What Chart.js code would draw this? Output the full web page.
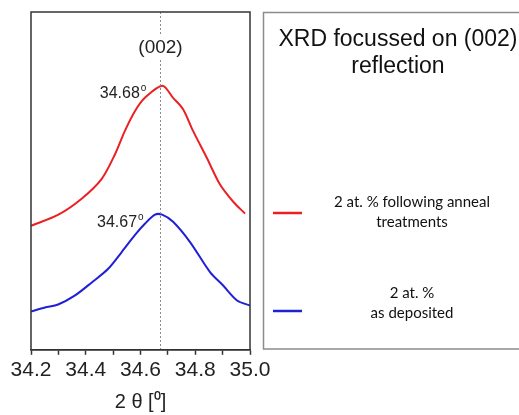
<!DOCTYPE html>
<html>
<head>
<meta charset="utf-8">
<script src="https://cdn.jsdelivr.net/npm/chart.js@4.4.1/dist/chart.umd.min.js"></script>
<style>
  html, body { margin: 0; padding: 0; background: #fff; }
  #wrap { position: relative; width: 519px; height: 415px; }
</style>
</head>
<body>
<div id="wrap"><canvas id="xrd-chart" width="519" height="415"></canvas></div>
<script>
// Data
const annealAngles = [34.20, 34.30, 34.386, 34.459, 34.507, 34.543, 34.58, 34.616, 34.68, 34.719, 34.755, 34.792, 34.843, 34.89, 34.938, 34.982];
const annealIntensity = [36.7, 40.0, 44.8, 50.7, 57.9, 64.8, 70.7, 74.6, 78.2, 74.6, 71.3, 64.8, 56.7, 49.0, 43.9, 40.3];

const depositedAngles = [34.20, 34.251, 34.299, 34.361, 34.423, 34.481, 34.532, 34.58, 34.616, 34.653, 34.679, 34.719, 34.781, 34.854, 34.901, 34.953, 35.0];
const depositedIntensity = [11.3, 12.5, 13.4, 16.1, 20.0, 23.9, 29.0, 34.0, 37.3, 40.0, 40.0, 37.9, 31.9, 23.0, 19.1, 14.6, 13.1];

const seriesNames = ['2 at. % following anneal treatments', '2 at. % as deposited'];
const legendLines = [['2 at. % following anneal', 'treatments'], ['2 at. %', 'as deposited']];
const seriesColors = ['rgb(236, 32, 36)', 'rgb(32, 32, 214)'];

const peakPositions = [34.68, 34.67];
const peakLabels = ['34.68', '34.67'];
const reflectionPosition = 34.67;
const reflectionLabel = '(002)';
const panelTitle = ['XRD focussed on (002)', 'reflection'];

const xMin = 34.2;
const xMax = 35.0;
const xTitle = '2 θ [⁰]';

function toPoints(xs, ys) {
    return xs.map((x, i) => ({ x: x, y: ys[i] }));
}

// Frame, reference line, peak labels
const overlayPlugin = {
    id: 'overlay',
    afterDatasetsDraw(chart) {
        const ctx = chart.ctx;
        const area = chart.chartArea;
        const xs = chart.scales.x;
        const ys = chart.scales.y;

        ctx.save();
        // dotted (002) line
        const rx = Math.round(xs.getPixelForValue(reflectionPosition)) + 0.5;
        ctx.strokeStyle = '#8a8a8a';
        ctx.lineWidth = 1;
        ctx.setLineDash([2, 2]);
        ctx.beginPath();
        ctx.moveTo(rx, area.top);
        ctx.lineTo(rx, area.bottom);
        ctx.stroke();
        ctx.setLineDash([]);

        // (002) label with white background
        ctx.font = '19px "Liberation Sans", Arial, sans-serif';
        ctx.textAlign = 'center';
        ctx.textBaseline = 'middle';
        const lw = ctx.measureText(reflectionLabel).width;
        ctx.fillStyle = '#fff';
        ctx.fillRect(rx - lw / 2 - 2, area.top + 24, lw + 4, 24);
        ctx.fillStyle = '#222';
        ctx.fillText(reflectionLabel, rx, area.top + 36);

        // peak labels
        const peakData = [annealIntensity, depositedIntensity];
        peakPositions.forEach((p, i) => {
            const px = xs.getPixelForValue(p);
            const py = ys.getPixelForValue(Math.max(...peakData[i]));
            ctx.font = '10px "Liberation Sans", Arial, sans-serif';
            const dw = ctx.measureText('o').width;
            const right = px - 16;
            ctx.fillStyle = '#222';
            ctx.textAlign = 'right';
            ctx.textBaseline = 'middle';
            ctx.fillText('o', right, py + 3);
            ctx.font = '16px "Liberation Sans", Arial, sans-serif';
            ctx.fillText(peakLabels[i], right - dw - 1, py + 8);
        });

        // plot frame
        ctx.strokeStyle = '#333';
        ctx.lineWidth = 1.5;
        ctx.strokeRect(area.left, area.top, area.right - area.left, area.bottom - area.top);
        ctx.restore();
    }
};

// Legend panel on the right
const panelPlugin = {
    id: 'panel',
    afterDraw(chart) {
        const ctx = chart.ctx;
        const left = 263.5;
        const top = 12.5;
        const bottom = 349;
        ctx.save();
        ctx.strokeStyle = '#8c8c8c';
        ctx.lineWidth = 1.5;
        ctx.strokeRect(left, top, 300, bottom - top);

        ctx.fillStyle = '#111';
        ctx.textAlign = 'center';
        ctx.textBaseline = 'middle';
        ctx.font = '23px "Liberation Sans", Arial, sans-serif';
        ctx.fillText(panelTitle[0], 398, 40);
        ctx.fillText(panelTitle[1], 398, 67);

        const lineYs = [213, 311];
        const textYs = [[202, 222], [293, 313]];
        chart.data.datasets.forEach((ds, i) => {
            ctx.strokeStyle = ds.borderColor;
            ctx.lineWidth = 2.5;
            ctx.beginPath();
            ctx.moveTo(273, lineYs[i]);
            ctx.lineTo(302, lineYs[i]);
            ctx.stroke();
            ctx.fillStyle = '#111';
            ctx.font = '15px Lato, "Open Sans", sans-serif';
            legendLines[i].forEach((t, j) => {
                ctx.fillText(t, 412, textYs[i][j]);
            });
        });
        ctx.restore();
    }
};

const ctx = document.getElementById('xrd-chart').getContext('2d');
new Chart(ctx, {
    type: 'line',
    data: {
        datasets: [
            {
                label: seriesNames[0],
                data: toPoints(annealAngles, annealIntensity),
                borderColor: seriesColors[0],
                borderWidth: 2,
                pointRadius: 0,
                tension: 0.3,
                fill: false
            },
            {
                label: seriesNames[1],
                data: toPoints(depositedAngles, depositedIntensity),
                borderColor: seriesColors[1],
                borderWidth: 2,
                pointRadius: 0,
                tension: 0.3,
                fill: false
            }
        ]
    },
    options: {
        responsive: false,
        animation: false,
        layout: {
            padding: { left: 31, right: 269, top: 12, bottom: 1 }
        },
        plugins: {
            legend: { display: false },
            tooltip: { enabled: false }
        },
        scales: {
            x: {
                type: 'linear',
                min: xMin,
                max: xMax,
                ticks: {
                    stepSize: 0.1,
                    autoSkip: false,
                    maxRotation: 0,
                    padding: 3,
                    color: '#222',
                    font: { family: '"Liberation Sans", Arial, sans-serif', size: 21 },
                    callback: function(value) {
                        const k = Math.round(value * 10);
                        return k % 2 === 0 ? value.toFixed(1) : '';
                    }
                },
                grid: {
                    drawOnChartArea: false,
                    drawTicks: true,
                    tickLength: 5,
                    tickColor: '#333',
                    tickWidth: 1.5
                },
                border: { display: true, color: '#333', width: 1.5 },
                title: {
                    display: true,
                    text: xTitle,
                    color: '#222',
                    padding: { top: 4, bottom: 0 },
                    font: { family: '"Liberation Sans", Arial, sans-serif', size: 20 }
                }
            },
            y: {
                display: false,
                min: 0,
                max: 100
            }
        }
    },
    plugins: [overlayPlugin, panelPlugin]
});
</script>
</body>
</html>
